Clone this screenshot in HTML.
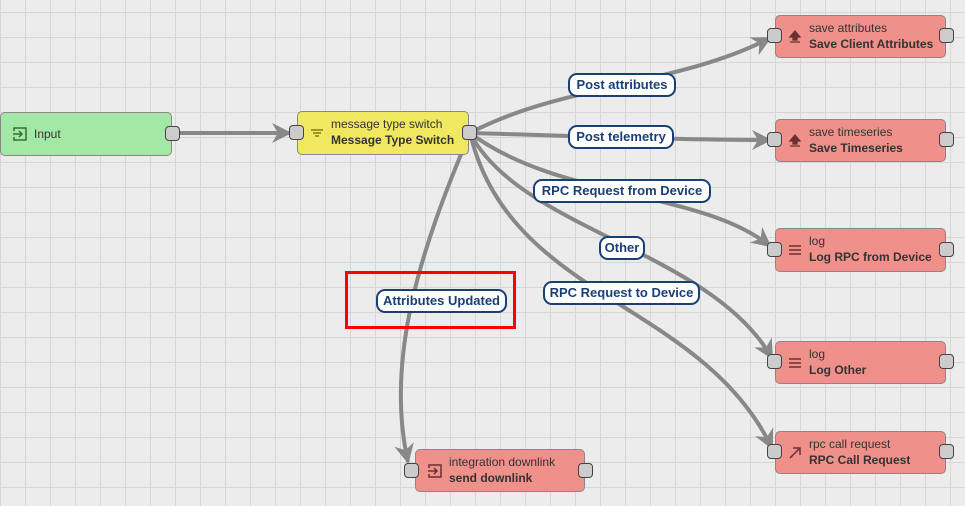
<!DOCTYPE html>
<html><head><meta charset="utf-8"><style>
body{margin:0;width:965px;height:506px;overflow:hidden;font-family:"Liberation Sans",sans-serif;
background-color:#ececec;
background-image:linear-gradient(90deg,#d6d6d6 1px,transparent 1px),linear-gradient(#d6d6d6 1px,transparent 1px);
background-size:25px 25px;background-position:0 12px;position:relative}
.n{position:absolute;border:1px solid #888;border-radius:5px;box-sizing:border-box;font-size:12px;color:#333}
.n .t1{position:absolute;left:33px;top:5px;white-space:nowrap}
.n .t2{position:absolute;left:33px;top:21px;font-weight:bold;white-space:nowrap}
.p{position:absolute;width:15px;height:15px;background:#ccc;border:1px solid #444;border-radius:4px;box-sizing:border-box}
.ic{position:absolute;left:11px;top:13px;width:16px;height:16px}
.lb{position:absolute;background:#fff;border:2px solid #1a3f75;border-radius:9px;color:#1a3f75;font-weight:bold;font-size:13px;box-sizing:border-box;height:24px;line-height:20px;text-align:center;white-space:nowrap}
svg.m{position:absolute;left:0;top:0}
</style></head><body>
<svg class="m" width="965" height="506">
<defs><marker id="a" viewBox="0 0 10 10" refX="9" refY="5" markerWidth="5" markerHeight="5" orient="auto" markerUnits="strokeWidth"><path d="M0,0 L10,5 L0,10 L3,5z" fill="#888"/></marker></defs>
<g stroke="#888" stroke-width="4" fill="none" marker-end="url(#a)">
<path d="M178,133 L290,133"/>
<path d="M470,133 C560,85 680,85 770,38"/>
<path d="M470,133 C580,136 680,140 770,140"/>
<path d="M470,133 C560,200 700,190 770,246"/>
<path d="M470,133 C520,230 710,250 772,358"/>
<path d="M470,133 C510,300 700,300 772,448"/>
<path d="M470,133 C420,250 385,360 408,462"/>
</g></svg>

<div class="n" style="left:0;top:112px;width:172px;height:44px;background:#a3e8a5"><svg class="ic" viewBox="0 0 16 16"><path d="M2,5 V2 H14 V14 H2 V11 M1,8 H10 M7,5 L10,8 L7,11" stroke="#3a6b3c" stroke-width="1.5" fill="none"/></svg><span class="t1" style="top:14px">Input</span></div>
<div class="p" style="left:165px;top:126px"></div>

<div class="n" style="left:297px;top:111px;width:172px;height:44px;background:#f1e861"><svg class="ic" viewBox="0 0 16 16"><path d="M2,5 H14 M4,8 H12 M6,11 H10" stroke="#8a7a10" stroke-width="1.5"/></svg><span class="t1">message type switch</span><span class="t2">Message Type Switch</span></div>
<div class="p" style="left:289px;top:125px"></div><div class="p" style="left:462px;top:125px"></div>

<div class="n" style="left:775px;top:15px;width:171px;height:43px;background:#f0908a"><svg class="ic" viewBox="0 0 16 16"><path d="M8,2 L13,8 H10 V11 H6 V8 H3z M3,13 H13" stroke="#6a3030" fill="#6a3030" stroke-width="1.3"/></svg><span class="t1">save attributes</span><span class="t2">Save Client Attributes</span></div>
<div class="p" style="left:767px;top:28px"></div><div class="p" style="left:939px;top:28px"></div>

<div class="n" style="left:775px;top:119px;width:171px;height:43px;background:#f0908a"><svg class="ic" viewBox="0 0 16 16"><path d="M8,2 L13,8 H10 V11 H6 V8 H3z M3,13 H13" stroke="#6a3030" fill="#6a3030" stroke-width="1.3"/></svg><span class="t1">save timeseries</span><span class="t2">Save Timeseries</span></div>
<div class="p" style="left:767px;top:132px"></div><div class="p" style="left:939px;top:132px"></div>

<div class="n" style="left:775px;top:228px;width:171px;height:44px;background:#f0908a"><svg class="ic" viewBox="0 0 16 16"><path d="M2,4 H14 M2,8 H14 M2,12 H14" stroke="#6a3030" stroke-width="1.5"/></svg><span class="t1">log</span><span class="t2">Log RPC from Device</span></div>
<div class="p" style="left:767px;top:242px"></div><div class="p" style="left:939px;top:242px"></div>

<div class="n" style="left:775px;top:341px;width:171px;height:43px;background:#f0908a"><svg class="ic" viewBox="0 0 16 16"><path d="M2,4 H14 M2,8 H14 M2,12 H14" stroke="#6a3030" stroke-width="1.5"/></svg><span class="t1">log</span><span class="t2">Log Other</span></div>
<div class="p" style="left:767px;top:354px"></div><div class="p" style="left:939px;top:354px"></div>

<div class="n" style="left:775px;top:431px;width:171px;height:43px;background:#f0908a"><svg class="ic" viewBox="0 0 16 16"><path d="M3,13 L13,3 M6,3 H13 V10" stroke="#6a3030" stroke-width="1.5" fill="none"/></svg><span class="t1">rpc call request</span><span class="t2">RPC Call Request</span></div>
<div class="p" style="left:767px;top:444px"></div><div class="p" style="left:939px;top:444px"></div>

<div class="n" style="left:415px;top:449px;width:170px;height:43px;background:#f0908a"><svg class="ic" viewBox="0 0 16 16"><path d="M2,5 V2 H14 V14 H2 V11 M1,8 H10 M7,5 L10,8 L7,11" stroke="#6a3030" stroke-width="1.5" fill="none"/></svg><span class="t1">integration downlink</span><span class="t2">send downlink</span></div>
<div class="p" style="left:404px;top:463px"></div><div class="p" style="left:578px;top:463px"></div>

<div class="lb" style="left:568px;top:73px;width:108px">Post attributes</div>
<div class="lb" style="left:568px;top:125px;width:106px">Post telemetry</div>
<div class="lb" style="left:533px;top:179px;width:178px">RPC Request from Device</div>
<div class="lb" style="left:599px;top:236px;width:46px">Other</div>
<div class="lb" style="left:543px;top:281px;width:157px">RPC Request to Device</div>
<div class="lb" style="left:376px;top:289px;width:131px">Attributes Updated</div>
<div style="position:absolute;left:345px;top:271px;width:171px;height:58px;border:3px solid #f00;box-sizing:border-box"></div>
</body></html>
